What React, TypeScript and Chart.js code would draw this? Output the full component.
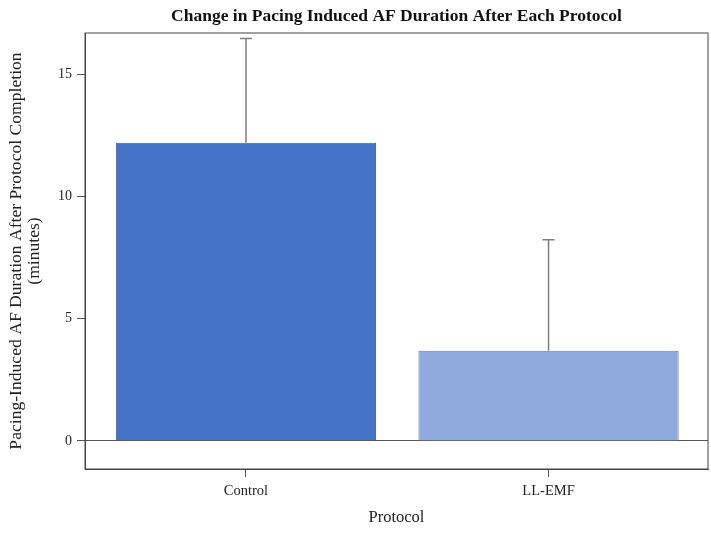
import React, { useEffect, useRef } from "react";
import { Chart, registerables } from "chart.js";

Chart.register(...registerables);

const categories = ["Control", "LL-EMF"];
const means = [12.21, 3.69];
const upperErrors = [16.47, 8.24];
const yTicks = [0, 5, 10, 15];
const barColors = ["#4472C4", "#8FAADC"];
const barBorders = ["#3A63AE", "#6E80A8"];

const FONT = "'Liberation Serif', 'Times New Roman', serif";

const errorBarPlugin = {
  id: "errorBars",
  afterDatasetsDraw(chart: any) {
    const { ctx, scales } = chart;
    const xs = scales.x;
    const ys = scales.y;
    ctx.save();
    ctx.strokeStyle = "#7F7F7F";
    ctx.lineWidth = 1.5;
    means.forEach((m, i) => {
      const x = xs.getPixelForValue(i);
      const yb = ys.getPixelForValue(m);
      const yt = ys.getPixelForValue(upperErrors[i]);
      ctx.beginPath();
      ctx.moveTo(x, yb);
      ctx.lineTo(x, yt);
      ctx.moveTo(x - 6, yt);
      ctx.lineTo(x + 6, yt);
      ctx.stroke();
    });
    ctx.restore();
  },
};

const frameBorderPlugin = {
  id: "frameBorder",
  afterDraw(chart: any) {
    const { ctx, chartArea } = chart;
    ctx.save();
    ctx.strokeStyle = "#444";
    ctx.lineWidth = 1;
    ctx.strokeRect(
      chartArea.left,
      chartArea.top,
      chartArea.right - chartArea.left,
      chartArea.bottom - chartArea.top
    );
    ctx.restore();
  },
};

export default function App() {
  const ref = useRef<HTMLCanvasElement>(null);

  useEffect(() => {
    document.body.style.margin = "0";
    if (!ref.current) return;
    const chart = new Chart(ref.current, {
      type: "bar",
      data: {
        datasets: [
          {
            data: categories.map((_, i) => ({ x: i, y: means[i] })) as any,
            backgroundColor: barColors,
            borderColor: barBorders,
            borderWidth: 1,
            categoryPercentage: 0.86,
            barPercentage: 1,
          },
        ],
      },
      options: {
        animation: false,
        responsive: false,
        layout: { padding: { top: 0, right: 3, bottom: 0, left: 0 } },
        plugins: {
          legend: { display: false },
          tooltip: { enabled: false },
          title: {
            display: true,
            fullSize: false,
            text: "Change in Pacing Induced AF Duration After Each Protocol",
            color: "#111",
            font: { family: FONT, size: 17.5, weight: "bold" },
            padding: { top: 6, bottom: 6 },
          },
        },
        scales: {
          x: {
            type: "linear",
            offset: false,
            min: -0.532,
            max: 1.527,
            afterBuildTicks: (scale: any) => {
              scale.ticks = categories.map((_, i) => ({ value: i }));
            },
            afterFit: (scale: any) => {
              scale.height = 65;
            },
            ticks: {
              color: "#222",
              font: { family: FONT, size: 14.5 },
              padding: 5,
              callback: (v: any) => categories[v] ?? "",
            },
            grid: {
              offset: false,
              drawOnChartArea: false,
              drawTicks: true,
              tickLength: 8,
              tickColor: "#555",
            },
            border: { display: true, color: "#444" },
            title: {
              display: true,
              text: "Protocol",
              color: "#222",
              font: { family: FONT, size: 16.5 },
              padding: { top: 0, bottom: 6 },
            },
          },
          y: {
            min: -1.15,
            max: 16.7,
            afterBuildTicks: (scale: any) => {
              scale.ticks = yTicks.map((v) => ({ value: v }));
            },
            afterFit: (scale: any) => {
              scale.width = 85;
            },
            ticks: {
              color: "#222",
              font: { family: FONT, size: 14 },
              padding: 5,
            },
            grid: {
              drawOnChartArea: true,
              drawTicks: true,
              tickLength: 8,
              color: (c: any) => (c.tick && c.tick.value === 0 ? "#555" : "rgba(0,0,0,0)"),
              tickColor: "#555",
            },
            border: { display: true, color: "#444" },
            title: {
              display: true,
              text: ["Pacing-Induced AF Duration After Protocol Completion", "(minutes)"],
              color: "#222",
              font: { family: FONT, size: 17.6, lineHeight: 1.03 },
              padding: { top: 7, bottom: 0 },
            },
          },
        },
      } as any,
      plugins: [errorBarPlugin, frameBorderPlugin],
    });
    return () => chart.destroy();
  }, []);

  return (
    <div style={{ width: 711, height: 534, background: "#fff" }}>
      <canvas ref={ref} width={711} height={534} style={{ display: "block" }} />
    </div>
  );
}
